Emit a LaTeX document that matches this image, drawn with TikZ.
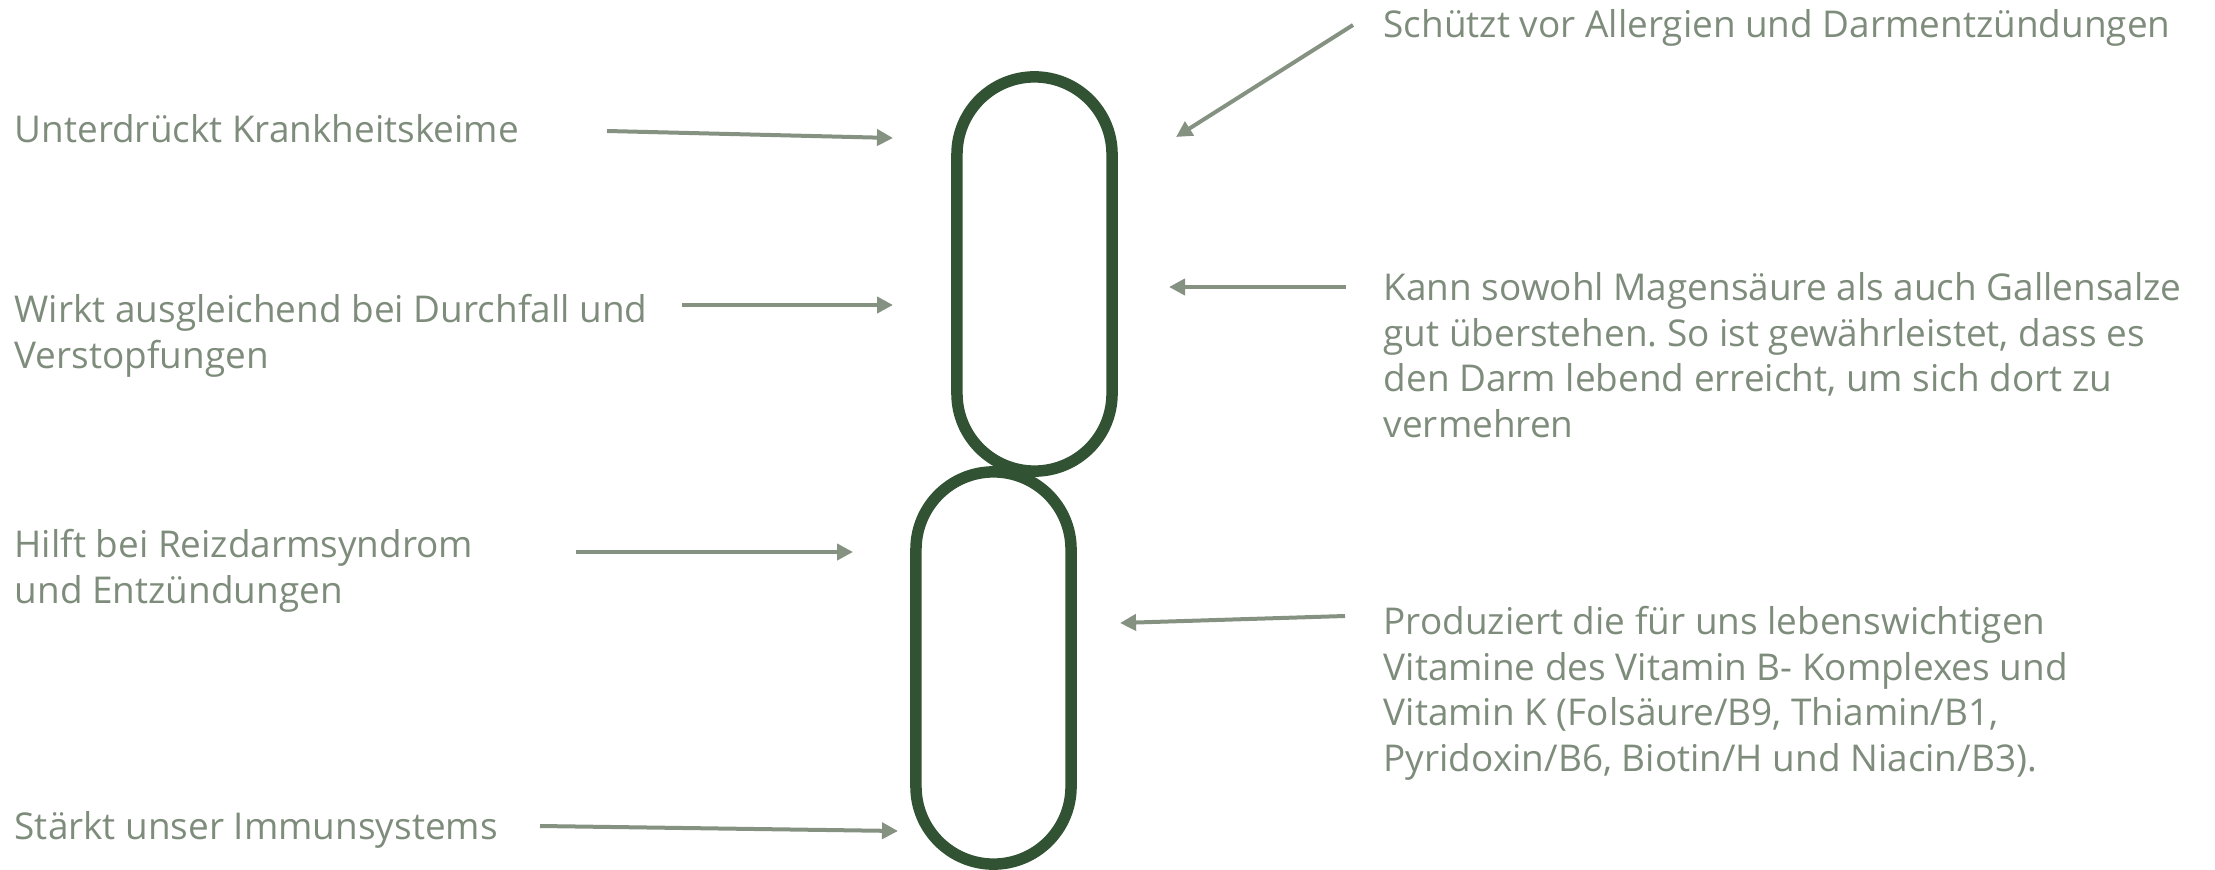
\documentclass[tikz,border=0pt]{standalone}
\usepackage{fontspec}
\setmainfont{Open Sans}
\frenchspacing
\usetikzlibrary{arrows.meta}
\definecolor{txtgray}{HTML}{7E8C7B}
\definecolor{arrgray}{HTML}{859282}
\definecolor{capgreen}{HTML}{325234}
\tikzset{
  lbl/.style={anchor=base west, inner sep=0pt, align=left, text=txtgray,
    font=\fontsize{10.5pt}{12.95pt}\selectfont},
  capsule/.style={draw=capgreen, line width=11.5*0.01cm, inner sep=0pt,
    minimum width=1.55cm, rounded corners=0.775cm},
  pointer/.style={draw=arrgray, line width=4*0.01cm,
    -{Triangle[length=0.16cm, width=0.16cm]}}
}
\begin{document}
\begin{tikzpicture}[x=0.01cm, y=-0.01cm]
\useasboundingbox (0,0) rectangle (2215,870);
% capsules
\node[capsule, minimum height=3.94cm] (capA) at (1034.5,274) {};
\node[capsule, minimum height=3.92cm] (capB) at (993.5,668) {};
% left labels (anchored at the baseline of the last line)
\node[lbl] (t1) at (14,143) {Unterdrückt Krankheitskeime};
\node[lbl] (t2) at (14,368.5) {Wirkt ausgleichend bei Durchfall und\\Verstopfungen};
\node[lbl] (t3) at (14,603.5) {Hilft bei Reizdarmsyndrom\\und Entzündungen};
\node[lbl] (t4) at (14,839) {Stärkt unser Immunsystems};
% right labels
\node[lbl] (t5) at (1383,38) {Schützt vor Allergien und Darmentzündungen};
\node[lbl] (t6) at (1383,437.5) {Kann sowohl Magensäure als auch Gallensalze\\gut überstehen. So ist gewährleistet, dass es\\den Darm lebend erreicht, um sich dort zu\\vermehren};
\node[lbl] (t7) at (1383,771.5) {Produziert die für uns lebenswichtigen\\Vitamine des Vitamin B- Komplexes und\\Vitamin K (Folsäure/B9, Thiamin/B1,\\Pyridoxin/B6, Biotin/H und Niacin/B3).};
% arrow ends
\coordinate (s1) at (607,131);  \coordinate (e1) at (893,138);
\coordinate (s2) at (682,305);  \coordinate (e2) at (893,305);
\coordinate (s3) at (576,552);  \coordinate (e3) at (853,552);
\coordinate (s4) at (540,826);  \coordinate (e4) at (898,831);
\coordinate (s5) at (1353,25);  \coordinate (e5) at (1176,137);
\coordinate (s6) at (1346,287); \coordinate (e6) at (1169,287);
\coordinate (s7) at (1345,616); \coordinate (e7) at (1120,623);
\foreach \i in {1,...,7} {\draw[pointer] (s\i) -- (e\i);}
\end{tikzpicture}
\end{document}
